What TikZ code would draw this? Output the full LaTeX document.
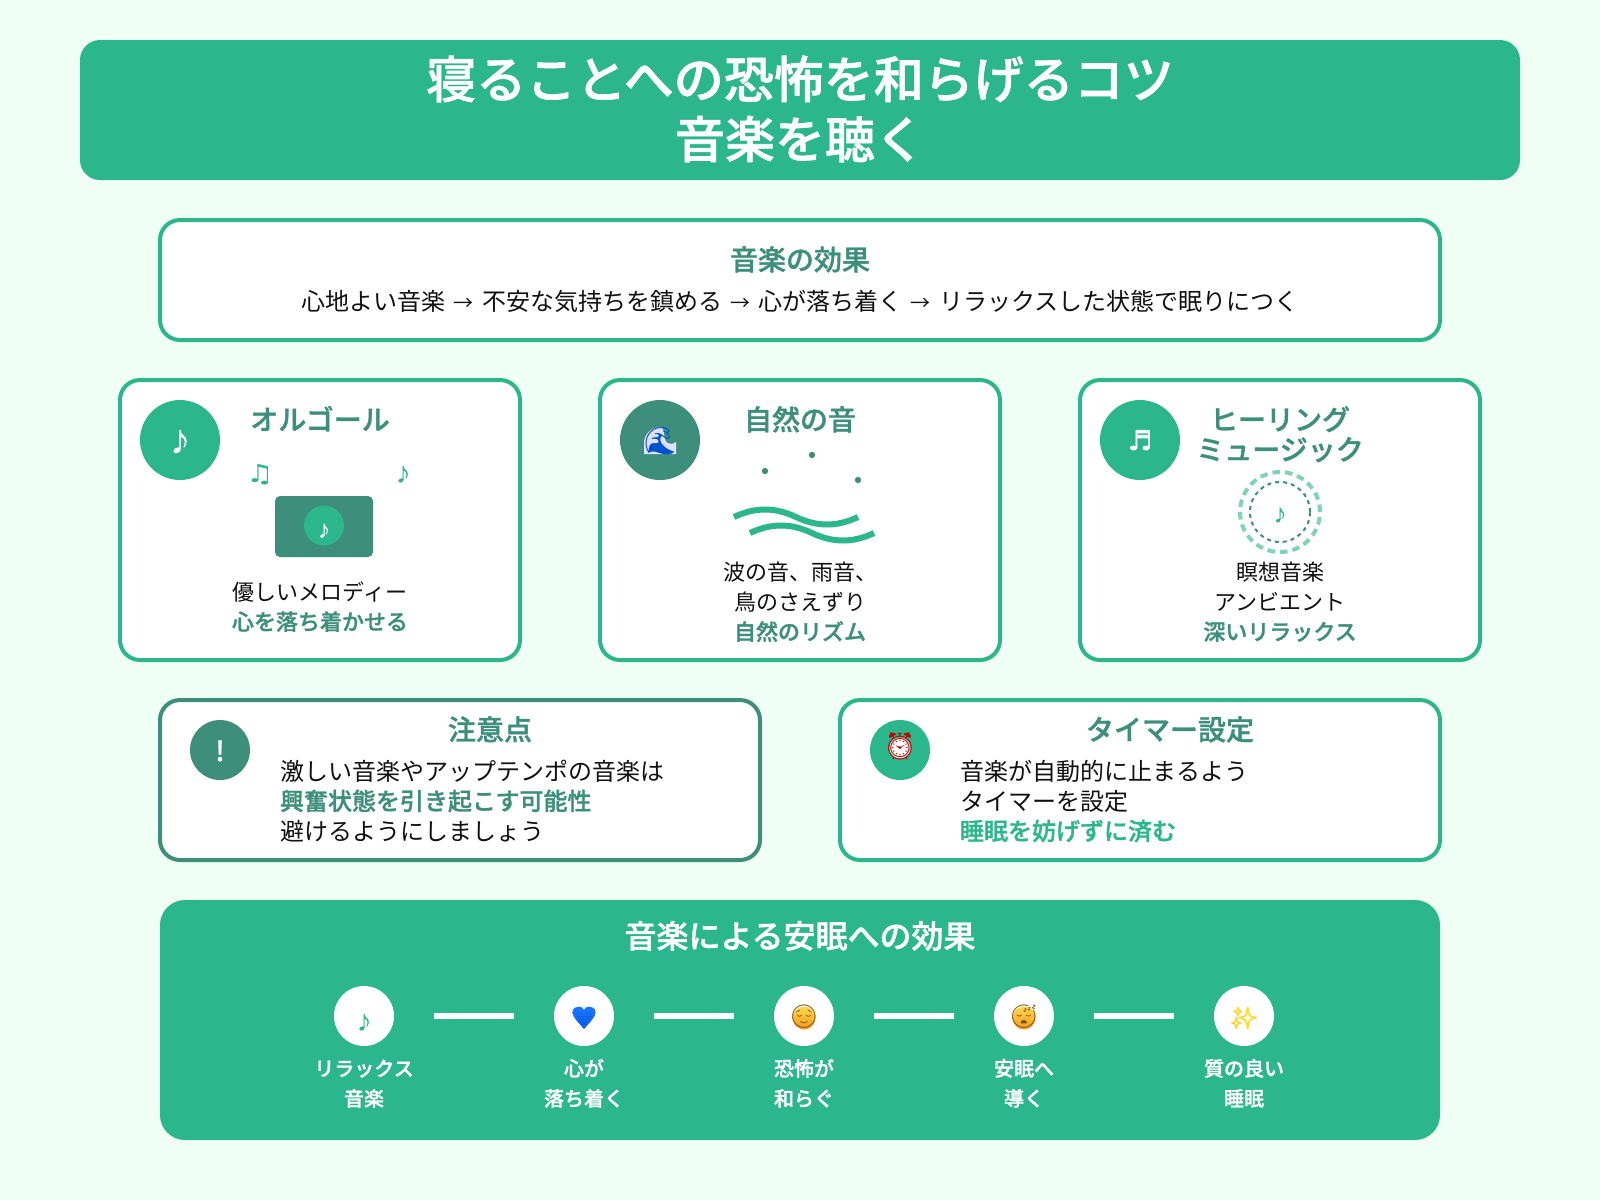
\documentclass[tikz,border=0pt]{standalone}
\usepackage{graphicx}
\usepackage{fontspec}
\setmainfont{Noto Sans CJK JP}[BoldFont={Noto Sans CJK JP Medium},BoldFeatures={FakeBold=1.2}]
\newfontfamily\symfont{DejaVu Sans}
\newfontfamily\symbold[FakeBold=2.5]{DejaVu Sans}
\newfontfamily\notefont[FakeBold=2]{Noto Sans CJK JP}
\newfontfamily\emojifont{Noto Emoji}
\newfontfamily\emojifill[FakeBold=4]{Noto Emoji}
\definecolor{grn}{HTML}{2BB68C}
\definecolor{drk}{HTML}{3D8F7C}
\definecolor{pagebg}{HTML}{F0FFF5}
\definecolor{txtk}{HTML}{111111}
\definecolor{facetop}{HTML}{FFD84A}
\definecolor{facebot}{HTML}{F5981F}
\definecolor{facelines}{HTML}{7A4A10}
\definecolor{hearttop}{HTML}{1A78FF}
\definecolor{heartbot}{HTML}{0044DD}
\newcommand\pxs[1]{\fontsize{#1}{#1}\selectfont}
\newcommand\sep{\makebox[36.6pt]{\pxs{20}→}}
\tikzset{
 lbl/.style={anchor=base,inner sep=0pt,outer sep=0pt},
 lblw/.style={anchor=base west,inner sep=0pt,outer sep=0pt},
 panel/.style={rectangle,rounded corners=20pt,draw=grn,line width=4pt,fill=white,inner sep=0pt,outer sep=0pt},
 disc/.style={circle,inner sep=0pt,outer sep=0pt,minimum size=#1},
 cardhead/.style={lbl,font=\pxs{28}\bfseries,text=drk},
 body/.style={lbl,font=\pxs{22},text=txtk},
 bodybold/.style={lbl,font=\pxs{22}\bfseries,text=drk},
 para/.style={lblw,font=\pxs{24},text=txtk},
 parabold/.style={lblw,font=\pxs{24}\bfseries},
 steplbl/.style={lbl,font=\pxs{20}\bfseries,text=white},
 flowline/.style={draw=white,line width=6pt,shorten <=40pt,shorten >=40pt},
}
\begin{document}
\begin{tikzpicture}[x=1pt,y=-1pt]
\useasboundingbox (0,0) rectangle (1600,1200);
\fill[pagebg] (0,0) rectangle (1600,1200);
% header
\node[rectangle,rounded corners=20pt,fill=grn,minimum width=1440pt,minimum height=140pt,inner sep=0pt,outer sep=0pt] (hdr) at (800,110) {};
\node[lbl,font=\pxs{50}\bfseries,text=white] (t1) at (800,98) {寝ることへの恐怖を和らげるコツ};
\node[lbl,font=\pxs{50}\bfseries,text=white] (t2) at (800,158) {音楽を聴く};
% effect
\node[panel,minimum width=1280pt,minimum height=120pt] (eff) at (800,280) {};
\node[cardhead] (efft) at (800,270) {音楽の効果};
\node[lbl,font=\pxs{24},text=txtk] (effb) at (800,310) {心地よい音楽\sep 不安な気持ちを鎮める\sep 心が落ち着く\sep リラックスした状態で眠りにつく};
% card 1
\node[panel,minimum width=400pt,minimum height=280pt] (c1) at (320,520) {};
\node[disc=80pt,fill=grn] (i1) at (180,440) {};
\node[lbl,font=\notefont\pxs{25},text=white] (i1g) at (180,451) {♪};
\node[cardhead] (c1t) at (320,430) {オルゴール};
\node[lbl,font=\symfont\pxs{25},text=grn] (n1) at (260,482) {\scalebox{1.25}[1]{♫}};
\node[lbl,font=\notefont\pxs{18},text=grn] (n2) at (403,481) {♪};
\node[rectangle,rounded corners=5pt,fill=drk,minimum width=98pt,minimum height=61pt,inner sep=0pt] (mb) at (324,526.5) {};
\node[disc=40pt,fill=grn] (mbd) at (324,525.5) {};
\node[lbl,font=\notefont\pxs{15},text=white] (mbn) at (324,536.4) {♪};
\node[body] (c1a) at (320,600) {優しいメロディー};
\node[bodybold] (c1b) at (320,630) {心を落ち着かせる};
% card 2
\node[panel,minimum width=400pt,minimum height=280pt] (c2) at (800,520) {};
\node[disc=80pt,fill=drk] (i2) at (660,440) {};
\fill[white!88!blue] (644,454) -- (644,441) .. controls (646,432) and (652,427) .. (662,427) -- (664,433) .. controls (664,444) and (670,446) .. (676,442) -- (676,454) -- cycle;
\node[lbl,font=\emojifont\pxs{27},text=blue!60!cyan!80!black] (i2g) at (660,450) {🌊};
\node[cardhead] (c2t) at (800,430) {自然の音};
\fill[drk] (765,471) circle (3.2pt) (812,455) circle (3.2pt) (858,480) circle (3.2pt);
\draw[grn,line width=6pt] (734,517) .. controls (755,507) and (775,507) .. (796,517) .. controls (817,527) and (837,527) .. (858,517);
\draw[grn,line width=6pt] (750,533) .. controls (771,523) and (791,523) .. (812,533) .. controls (833,543) and (853,543) .. (874,533);
\node[body] (c2a) at (800,580) {波の音、雨音、};
\node[body] (c2b) at (800,610) {鳥のさえずり};
\node[bodybold] (c2c) at (800,640) {自然のリズム};
% card 3
\node[panel,minimum width=400pt,minimum height=280pt] (c3) at (1280,520) {};
\node[disc=80pt,fill=grn] (i3) at (1140,440) {};
\node[lbl,font=\symbold\pxs{27},text=white] (i3g) at (1140,450) {♬};
\node[cardhead] (c3t) at (1280,430) {ヒーリング};
\node[cardhead] (c3u) at (1280,460) {ミュージック};
\node[disc=80pt,draw=grn!60!white,line width=4pt,dash pattern=on 7.56pt off 5pt] (r1) at (1280,512) {};
\node[disc=60pt,draw=drk,line width=2pt,dash pattern=on 4pt off 4pt] (r2) at (1280,512) {};
\node[lbl,font=\notefont\pxs{16},text=grn] (r3) at (1280,521) {♪};
\node[body] (c3a) at (1280,580) {瞑想音楽};
\node[body] (c3b) at (1280,610) {アンビエント};
\node[bodybold] (c3c) at (1280,640) {深いリラックス};
% caution
\node[panel,draw=drk,minimum width=600pt,minimum height=160pt] (w) at (460,780) {};
\node[disc=60pt,fill=drk] (wi) at (220,750) {};
\node[lbl,font=\pxs{27}\bfseries,text=white] (wig) at (220,761) {!};
\node[cardhead] (wt) at (490,740) {注意点};
\node[para] (wa) at (280,780) {激しい音楽やアップテンポの音楽は};
\node[parabold,text=drk] (wb) at (280,810) {興奮状態を引き起こす可能性};
\node[para] (wc) at (280,840) {避けるようにしましょう};
% timer
\node[panel,minimum width=600pt,minimum height=160pt] (m) at (1140,780) {};
\node[disc=60pt,fill=grn] (mi) at (900,750) {};
\fill[white] (900,748) circle (10.5pt);
\node[lbl,font=\emojifont\pxs{27},text=red!75!black] (mig) at (900,755) {⏰};
\node[cardhead] (mt) at (1170,740) {タイマー設定};
\node[para] (ma) at (960,780) {音楽が自動的に止まるよう};
\node[para] (mb2) at (960,810) {タイマーを設定};
\node[parabold,text=grn] (mc) at (960,840) {睡眠を妨げずに済む};
% bottom
\node[rectangle,rounded corners=25pt,fill=grn,minimum width=1280pt,minimum height=240pt,inner sep=0pt,outer sep=0pt] (bot) at (800,1020) {};
\node[lbl,font=\pxs{32}\bfseries,text=white] (bt) at (800,948) {音楽による安眠への効果};
\node[disc=60pt,fill=white] (s1) at (364,1016) {};
\node[disc=60pt,fill=white] (s2) at (584,1016) {};
\node[disc=60pt,fill=white] (s3) at (804,1016) {};
\node[disc=60pt,fill=white] (s4) at (1024,1016) {};
\node[disc=60pt,fill=white] (s5) at (1244,1016) {};
\path[flowline] (s1) -- (s2);
\path[flowline] (s2) -- (s3);
\path[flowline] (s3) -- (s4);
\path[flowline] (s4) -- (s5);
\node[lbl,font=\notefont\pxs{18},text=grn] (g1) at (364,1029) {♪};
\shade[top color=hearttop,bottom color=heartbot] (584,1029) .. controls (578,1022) and (572.5,1017) .. (572.5,1012.5) .. controls (572.5,1008) and (576,1006.5) .. (579,1006.5) .. controls (581.5,1006.5) and (583,1008) .. (584,1010) .. controls (585,1008) and (586.5,1006.5) .. (589,1006.5) .. controls (592,1006.5) and (595.5,1008) .. (595.5,1012.5) .. controls (595.5,1017) and (590,1022) .. (584,1029) -- cycle;
\node[lbl,font=\emojifont\pxs{18},text=hearttop] (g2) at (584,1024) {💙};
\shade[top color=facetop,bottom color=facebot] (804,1018) circle (11.5pt);
\node[lbl,font=\emojifont\pxs{23},text=facelines] (g3) at (804,1024.7) {😌};
\shade[top color=facetop,bottom color=facebot] (1024,1018) circle (11.5pt);
\node[lbl,font=\emojifont\pxs{23},text=facelines] (g4) at (1024,1024.7) {😴};
\node[lbl,font=\emojifill\pxs{21},text=yellow!70!orange!80!white] (g5) at (1244,1025) {✨};
\node[steplbl] (l1a) at (364,1076) {リラックス};
\node[steplbl] (l1b) at (364,1106) {音楽};
\node[steplbl] (l2a) at (584,1076) {心が};
\node[steplbl] (l2b) at (584,1106) {落ち着く};
\node[steplbl] (l3a) at (804,1076) {恐怖が};
\node[steplbl] (l3b) at (804,1106) {和らぐ};
\node[steplbl] (l4a) at (1024,1076) {安眠へ};
\node[steplbl] (l4b) at (1024,1106) {導く};
\node[steplbl] (l5a) at (1244,1076) {質の良い};
\node[steplbl] (l5b) at (1244,1106) {睡眠};
\end{tikzpicture}
\end{document}
